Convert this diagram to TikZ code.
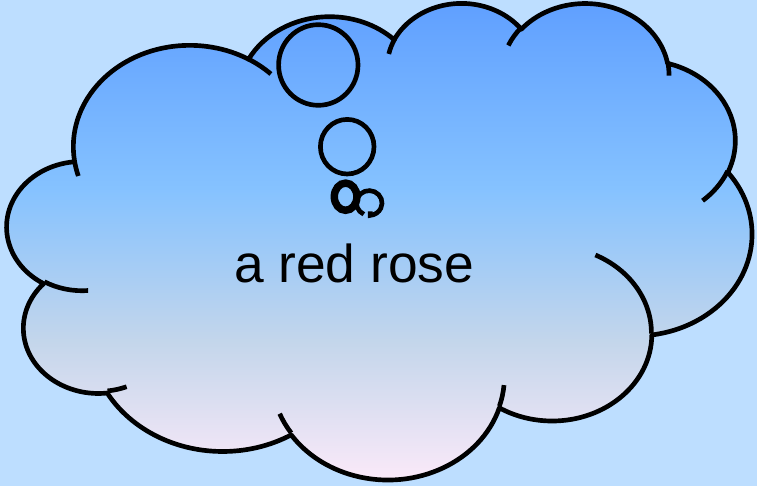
\documentclass[tikz,border=0pt]{standalone}
\usepackage{fontspec}
\newfontfamily\arialfont{Liberation Sans}
\definecolor{skyback}{HTML}{BDDEFF}
\definecolor{dayA}{HTML}{5E9EFF}
\definecolor{dayB}{HTML}{85C2FF}
\definecolor{dayC}{HTML}{C4D6EB}
\definecolor{dayD}{HTML}{FFEBFA}
\pgfdeclareverticalshading{daybreak}{100bp}{color(0bp)=(dayD); color(25bp)=(dayD);
  color(40bp)=(dayC); color(55.5bp)=(dayB); color(75bp)=(dayA); color(100bp)=(dayA)}
\tikzset{
	% arc given by radii and visual start/sweep angles
	ooarc/.code n args={4}{%
			\pgfmathsetmacro\oost{#3}%
			\pgfmathsetmacro\ooen{#3+#4}%
			\pgfmathsetmacro\oots{atan(#1/#2*tan(\oost))+180*round(\oost/180)}%
			\pgfmathsetmacro\oote{atan(#1/#2*tan(\ooen))+180*round(\ooen/180)}%
			\pgfmathsetmacro\oorx{#1/100}%
			\pgfmathsetmacro\oory{#2/100}%
			\pgfkeysalso{x radius=\oorx, y radius=\oory, start angle=\oots, end angle=\oote}%
		},
	outline/.style={line width=3.5pt, line join=round},
	bubble/.style={line width=3.5pt},
}

\begin{document}
\begin{tikzpicture}[x=0.75pt, y=-0.75pt]
		\useasboundingbox (0,0) rectangle (757,486);
		\fill[skyback] (0,0) rectangle (757,486);

		\begin{scope}[xshift=5.4pt, yshift=-1.395pt, x=1.29255pt, y=-0.8271pt]
			% cloud body
			\shadedraw[outline, shading=daybreak] (39.00,143.70)
			arc[ooarc={6753}{9190}{-190.4875}{123.7805}]
			arc[ooarc={5333}{7267}{-144.1024}{89.9452}]
			arc[ooarc={4365}{5945}{-145.8079}{99.7230}]
			arc[ooarc={4857}{6595}{-130.9861}{117.2417}]
			arc[ooarc={5333}{7273}{-78.7089}{109.0269}]
			arc[ooarc={6775}{9220}{-46.2673}{130.2690}]
			arc[ooarc={5785}{7867}{0.6250}{114.0333}]
			arc[ooarc={6752}{9215}{22.4516}{115.1726}]
			arc[ooarc={7720}{10543}{66.2426}{75.7110}]
			arc[ooarc={4360}{5918}{-274.9421}{146.7356}]
			arc[ooarc={4345}{5945}{-246.8285}{152.5189}]
			-- cycle;

			% inner stubs
			\foreach \sx/\sy/\sw/\sh/\sa/\sd in {
					46.93/261.77/4345/5945/86.7420/26.4295,
					69.28/348.99/4360/5918/73.6105/11.4475,
					164.78/390.90/6752/9215/137.6242/14.0811,
					288.27/347.51/6752/9215/6.4533/15.9984,
					341.29/229.54/5785/7867/-70.2924/70.9174,
					417.98/153.54/5333/7273/30.3180/27.7515,
					383.24/54.26/4857/6595/-13.7443/14.8589,
					290.78/39.52/4857/6595/-149.1815/18.1954,
					221.41/47.20/4365/5945/-163.4943/17.6864,
					140.00/51.92/6753/9190/-66.7070/12.3194,
					41.27/157.89/6753/9190/157.6544/11.8582}
				\draw[outline] (\sx,\sy) arc[ooarc={\sw}{\sh}{\sa}{\sd}];
		\end{scope}

		% thought bubbles
		\draw[bubble] (318.3,65) ellipse[x radius=39.7, y radius=40.3];
		\draw[bubble] (347.2,146.7) ellipse[x radius=26.8, y radius=27.3];
		\draw[line width=5.6pt] (345.6,196.7) ellipse[x radius=11.3, y radius=13.6];
		\coordinate (tinyring) at (369.2,203);
		\draw[line width=3.5pt] ([shift={(115:12.8 and 12.4)}]tinyring)
		arc[start angle=115, end angle=445, x radius=12.8, y radius=12.4] -- ++(0,-4);

		\node[font=\arialfont\fontsize{40}{48}\selectfont, anchor=base] (caption)
		at (354.2,282.3) {a red rose};
	\end{tikzpicture}
\end{document}
